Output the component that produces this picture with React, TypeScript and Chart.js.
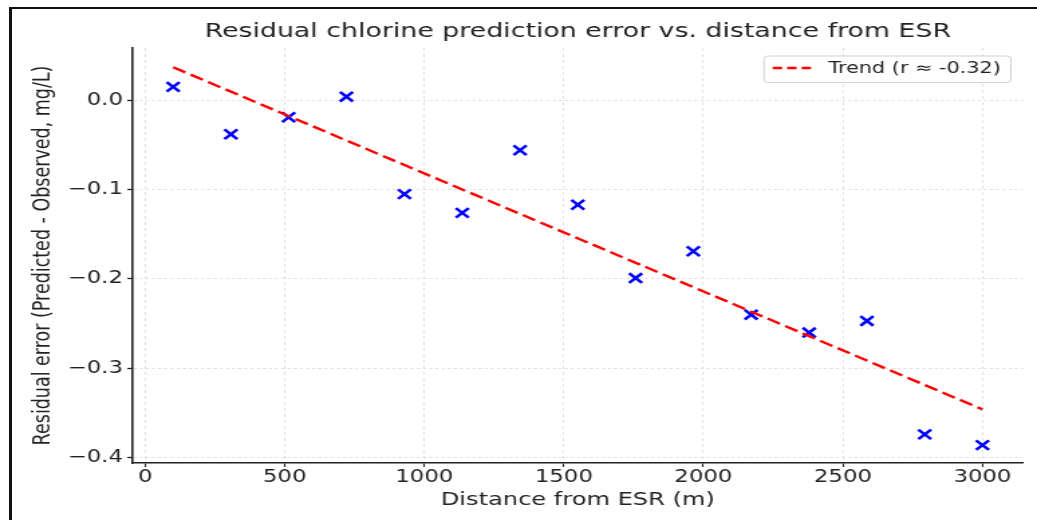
import React, { useEffect, useRef } from 'react';
import { Chart, registerables } from 'chart.js';

Chart.register(...registerables);

// ---- data ----
const DISTANCE_M = [100, 307, 514, 721, 929, 1136, 1343, 1550, 1757, 1964, 2171, 2379, 2586, 2793, 3000];
const RESIDUAL_MG_L = [0.015, -0.038, -0.019, 0.004, -0.105, -0.126, -0.056, -0.117, -0.199, -0.169, -0.240, -0.260, -0.247, -0.374, -0.386];
const TREND_DISTANCE_M = [100, 3000];
const TREND_RESIDUAL_MG_L = [0.037, -0.346];
const TREND_LABEL = 'Trend (r ≈ -0.32)';

const X_TICKS = [0, 500, 1000, 1500, 2000, 2500, 3000];
const X_TICK_LABELS = ['0', '500', '1000', '1500', '2000', '2500', '3000'];
const Y_TICKS = [0, -0.1, -0.2, -0.3, -0.4];
const Y_TICK_LABELS = ['0.0', '\u22120.1', '\u22120.2', '\u22120.3', '\u22120.4'];

const TITLE = 'Residual chlorine prediction error vs. distance from ESR';
const X_TITLE = 'Distance from ESR (m)';
const Y_TITLE = 'Residual error (Predicted - Observed, mg/L)';

// ---- layout / style ----
const OUT_W = 1037;
const OUT_H = 520;
const NATIVE_W = 774; // drawn narrower, then stretched horizontally like the reference
const FONT = '"DejaVu Sans", sans-serif';
const TEXT = '#222222';

const insideLegend = {
  id: 'insideLegend',
  afterDraw(chart: any) {
    const ds = chart.data.datasets[1];
    const ctx = chart.ctx as CanvasRenderingContext2D;
    const area = chart.chartArea;
    const fontSize = 15.5;
    ctx.save();
    ctx.font = `${fontSize}px ${FONT}`;
    const tw = ctx.measureText(ds.label).width;
    const padL = 6.5, handle = 30, gap = 11.5, padR = 7.5;
    const w = padL + handle + gap + tw + padR;
    const h = 26.5;
    const right = area.right - 9;
    const top = area.top + 8;
    const left = right - w;
    const r = 3;
    ctx.beginPath();
    ctx.moveTo(left + r, top);
    ctx.lineTo(right - r, top);
    ctx.arcTo(right, top, right, top + r, r);
    ctx.lineTo(right, top + h - r);
    ctx.arcTo(right, top + h, right - r, top + h, r);
    ctx.lineTo(left + r, top + h);
    ctx.arcTo(left, top + h, left, top + h - r, r);
    ctx.lineTo(left, top + r);
    ctx.arcTo(left, top, left + r, top, r);
    ctx.closePath();
    ctx.fillStyle = 'rgba(255,255,255,0.85)';
    ctx.fill();
    ctx.strokeStyle = '#d0d0d0';
    ctx.lineWidth = 1;
    ctx.stroke();
    const cy = top + 12;
    ctx.beginPath();
    ctx.setLineDash([7, 3.8]);
    ctx.strokeStyle = ds.borderColor;
    ctx.lineWidth = ds.borderWidth;
    ctx.moveTo(left + padL, cy);
    ctx.lineTo(left + padL + handle, cy);
    ctx.stroke();
    ctx.setLineDash([]);
    ctx.fillStyle = TEXT;
    ctx.textAlign = 'left';
    ctx.textBaseline = 'middle';
    ctx.fillText(ds.label, left + padL + handle + gap, cy + 1);
    ctx.restore();
  },
};

export default function App() {
  const canvasRef = useRef<HTMLCanvasElement>(null);

  useEffect(() => {
    document.body.style.margin = '0';
    const canvas = canvasRef.current;
    if (!canvas) return;

    const chart = new Chart(canvas, {
      type: 'scatter',
      data: {
        datasets: [
          {
            label: 'Residuals',
            data: DISTANCE_M.map((x, i) => ({ x, y: RESIDUAL_MG_L[i] })),
            pointStyle: 'crossRot',
            pointRadius: 6.8,
            pointHoverRadius: 6.8,
            borderWidth: 2.5,
            borderColor: '#0000ff',
            backgroundColor: '#0000ff',
            showLine: false,
            order: 1,
          },
          {
            label: TREND_LABEL,
            data: TREND_DISTANCE_M.map((x, i) => ({ x, y: TREND_RESIDUAL_MG_L[i] })),
            showLine: true,
            pointRadius: 0,
            borderColor: '#ff0000',
            backgroundColor: '#ff0000',
            borderWidth: 2.4,
            borderDash: [10.5, 4.5],
            fill: false,
            order: 0,
          } as any,
        ],
      },
      plugins: [insideLegend],
      options: {
        responsive: false,
        animation: false,
        devicePixelRatio: 1,
        layout: { padding: { left: 0, right: 10.5, top: 0, bottom: 0 }, autoPadding: false },
        plugins: {
          legend: { display: false },
          tooltip: { enabled: false },
          title: {
            display: true,
            text: TITLE,
            color: TEXT,
            font: { family: FONT, size: 20, weight: 'normal' },
            padding: { top: 20, bottom: 4 },
            fullSize: false,
          },
        },
        scales: {
          x: {
            type: 'linear',
            min: -45,
            max: 3145,
            afterBuildTicks: (s: any) => {
              s.ticks = X_TICKS.map((v) => ({ value: v }));
            },
            afterFit: (s: any) => {
              s.height = 57;
            },
            ticks: {
              autoSkip: false,
              maxRotation: 0,
              padding: 0.5,
              color: TEXT,
              font: { family: FONT, size: 17 },
              callback: (v: any) => X_TICK_LABELS[X_TICKS.indexOf(Number(v))],
            },
            grid: {
              color: '#e0e0e0',
              lineWidth: 1,
              tickLength: 4,
              tickColor: TEXT,
              tickWidth: 1.1,
            },
            border: { display: true, color: TEXT, width: 1.5, dash: [3, 3] },
            title: {
              display: true,
              text: X_TITLE,
              color: TEXT,
              font: { family: FONT, size: 18 },
              padding: { top: 0, bottom: 8.5 },
            },
          },
          y: {
            type: 'linear',
            min: -0.406,
            max: 0.0585,
            afterBuildTicks: (s: any) => {
              s.ticks = Y_TICKS.map((v) => ({ value: v }));
            },
            afterFit: (s: any) => {
              s.width = 99;
            },
            ticks: {
              padding: 3.2,
              color: TEXT,
              font: { family: FONT, size: 17 },
              callback: (v: any) => Y_TICK_LABELS[Y_TICKS.indexOf(Number(v))],
            },
            grid: {
              color: '#e0e0e0',
              lineWidth: 1,
              tickLength: 4,
              tickColor: TEXT,
              tickWidth: 1.3,
            },
            border: { display: true, color: TEXT, width: 1.6, dash: [2.3, 2.3] },
            title: {
              display: true,
              text: Y_TITLE,
              color: TEXT,
              font: { family: FONT, size: 17.5 },
              padding: { top: 21.5, bottom: 0 },
            },
          },
        },
      },
    } as any);

    return () => chart.destroy();
  }, []);

  return (
    <div style={{ position: 'relative', width: OUT_W, height: OUT_H, overflow: 'hidden', background: '#ffffff' }}>
      <div
        style={{
          position: 'absolute',
          left: 0,
          top: 0,
          width: NATIVE_W,
          height: OUT_H,
          transform: `scaleX(${OUT_W / NATIVE_W})`,
          transformOrigin: '0 0',
        }}
      >
        <canvas ref={canvasRef} width={NATIVE_W} height={OUT_H} style={{ display: 'block' }} />
      </div>
      <div
        style={{
          position: 'absolute',
          left: 9,
          top: 7,
          right: -10,
          bottom: -10,
          borderTop: '2px solid #111',
          borderLeft: '3px solid #111',
          pointerEvents: 'none',
        }}
      />
    </div>
  );
}
